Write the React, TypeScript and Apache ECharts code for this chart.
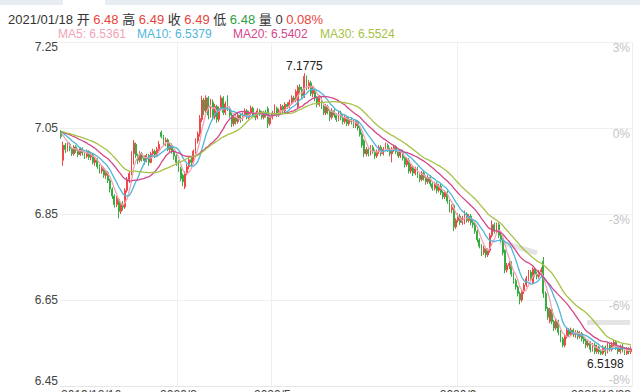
import React, { useEffect, useRef } from "react";
import * as echarts from "echarts";

const FONT = "Arial, 'Liberation Sans', 'Noto Sans CJK SC', sans-serif";

// first trading day shown (weekday calendar)
const startDate = "2019-12-16";

// closes before the visible range (used only for the moving averages)
const priorCloses = [
  7.045, 7.05, 7.04, 7.035, 7.045, 7.04, 7.05, 7.045, 7.035, 7.04,
  7.045, 7.05, 7.04, 7.035, 7.04, 7.045, 7.04, 7.05, 7.045, 7.04,
  7.035, 7.045, 7.05, 7.04, 7.045, 7.04, 7.035, 7.045, 7.04,
];

// [open, close, low, high]
const candles: number[][] = [
  [7.04, 7.03, 7.025, 7.045], [6.975, 7.01, 6.962, 7.018], [7.01, 7.0, 6.992, 7.015], [7.0, 7.012, 6.995, 7.018], [7.012, 7.002, 6.996, 7.016],
  [7.002, 6.99, 6.985, 7.006], [6.99, 7.006, 6.986, 7.01], [7.006, 6.998, 6.992, 7.01], [6.998, 6.988, 6.982, 7.002], [6.988, 7.002, 6.985, 7.006],
  [7.002, 6.992, 6.986, 7.005], [6.992, 6.984, 6.978, 6.996], [6.984, 6.996, 6.98, 7.0], [6.996, 6.982, 6.976, 6.998], [6.982, 6.988, 6.975, 6.994],
  [6.988, 6.97, 6.965, 6.99], [6.97, 6.976, 6.962, 6.982], [6.976, 6.96, 6.955, 6.98], [6.96, 6.95, 6.944, 6.965], [6.95, 6.956, 6.944, 6.962],
  [6.956, 6.94, 6.934, 6.96], [6.94, 6.946, 6.932, 6.952], [6.946, 6.928, 6.922, 6.95], [6.928, 6.908, 6.9, 6.932], [6.908, 6.892, 6.885, 6.912],
  [6.892, 6.872, 6.865, 6.896], [6.872, 6.886, 6.866, 6.892], [6.884, 6.856, 6.84, 6.888], [6.856, 6.872, 6.85, 6.878], [6.872, 6.866, 6.858, 6.88],
  [6.866, 6.905, 6.862, 6.91], [6.905, 6.93, 6.9, 6.936], [6.93, 6.944, 6.922, 6.95], [6.944, 6.99, 6.94, 6.996], [6.99, 7.015, 6.965, 7.022],
  [7.012, 6.986, 6.98, 7.016], [6.986, 6.975, 6.966, 6.99], [6.975, 6.99, 6.97, 6.996], [6.99, 6.98, 6.972, 6.994], [6.98, 6.974, 6.965, 6.986],
  [6.974, 6.986, 6.97, 6.99], [6.986, 6.97, 6.962, 6.99], [6.97, 6.99, 6.968, 6.995], [6.99, 6.996, 6.984, 7.002], [6.996, 6.985, 6.98, 7.0],
  [6.985, 7.0, 6.982, 7.006], [7.0, 7.012, 6.996, 7.02], [7.04, 7.03, 7.026, 7.044], [7.03, 7.016, 7.01, 7.034], [7.016, 7.022, 7.008, 7.028],
  [7.022, 7.0, 6.996, 7.026], [7.0, 7.01, 6.994, 7.016], [7.01, 6.995, 6.99, 7.014], [6.995, 6.985, 6.976, 7.0], [6.985, 6.97, 6.962, 6.99],
  [6.97, 6.955, 6.948, 6.975], [6.955, 6.932, 6.926, 6.96], [6.94, 6.925, 6.915, 6.944], [6.913, 6.945, 6.908, 6.95], [6.945, 6.96, 6.94, 6.966],
  [6.96, 6.976, 6.954, 6.98], [6.976, 6.97, 6.962, 6.984], [6.97, 6.996, 6.966, 7.0], [6.996, 7.02, 6.99, 7.026], [7.02, 7.036, 7.014, 7.042],
  [7.036, 7.072, 7.03, 7.08], [7.07, 7.115, 7.064, 7.125], [7.115, 7.09, 7.08, 7.12], [7.09, 7.12, 7.085, 7.126], [7.12, 7.08, 7.07, 7.124],
  [7.08, 7.11, 7.074, 7.118], [7.11, 7.076, 7.068, 7.116], [7.076, 7.1, 7.07, 7.106], [7.1, 7.07, 7.062, 7.104], [7.07, 7.095, 7.064, 7.1],
  [7.095, 7.12, 7.09, 7.126], [7.12, 7.086, 7.08, 7.124], [7.086, 7.106, 7.08, 7.112], [7.12, 7.095, 7.09, 7.126], [7.095, 7.08, 7.074, 7.1],
  [7.08, 7.06, 7.052, 7.086], [7.06, 7.075, 7.054, 7.08], [7.075, 7.065, 7.058, 7.08], [7.065, 7.08, 7.06, 7.086], [7.08, 7.07, 7.062, 7.084],
  [7.07, 7.08, 7.066, 7.086], [7.08, 7.09, 7.075, 7.096], [7.09, 7.075, 7.07, 7.094], [7.075, 7.086, 7.07, 7.09], [7.086, 7.096, 7.08, 7.102],
  [7.096, 7.08, 7.074, 7.1], [7.08, 7.075, 7.068, 7.086], [7.075, 7.09, 7.07, 7.096], [7.09, 7.085, 7.078, 7.094], [7.085, 7.075, 7.07, 7.09],
  [7.075, 7.086, 7.07, 7.09], [7.086, 7.08, 7.074, 7.092], [7.095, 7.06, 7.05, 7.1], [7.06, 7.075, 7.055, 7.08], [7.075, 7.085, 7.07, 7.09],
  [7.085, 7.096, 7.08, 7.105], [7.096, 7.08, 7.075, 7.1], [7.08, 7.09, 7.076, 7.095], [7.09, 7.1, 7.084, 7.106], [7.1, 7.09, 7.084, 7.104],
  [7.09, 7.105, 7.086, 7.11], [7.105, 7.1, 7.094, 7.11], [7.1, 7.11, 7.096, 7.116], [7.11, 7.12, 7.104, 7.126], [7.12, 7.115, 7.108, 7.125],
  [7.115, 7.135, 7.11, 7.14], [7.1, 7.145, 7.095, 7.15], [7.145, 7.14, 7.132, 7.152], [7.14, 7.125, 7.12, 7.146], [7.125, 7.17, 7.12, 7.1775],
  [7.17, 7.145, 7.138, 7.172], [7.145, 7.155, 7.14, 7.162], [7.155, 7.13, 7.124, 7.16], [7.13, 7.14, 7.122, 7.146], [7.14, 7.12, 7.112, 7.144],
  [7.12, 7.105, 7.098, 7.124], [7.105, 7.12, 7.1, 7.126], [7.12, 7.1, 7.094, 7.124], [7.1, 7.085, 7.08, 7.104], [7.085, 7.1, 7.08, 7.106],
  [7.1, 7.09, 7.082, 7.104], [7.09, 7.075, 7.066, 7.094], [7.075, 7.09, 7.07, 7.096], [7.09, 7.08, 7.074, 7.094], [7.08, 7.07, 7.064, 7.084],
  [7.07, 7.085, 7.066, 7.09], [7.085, 7.075, 7.068, 7.09], [7.075, 7.065, 7.058, 7.08], [7.065, 7.075, 7.06, 7.08], [7.075, 7.06, 7.054, 7.078],
  [7.06, 7.07, 7.055, 7.076], [7.07, 7.065, 7.058, 7.074], [7.065, 7.055, 7.05, 7.07], [7.055, 7.065, 7.05, 7.07], [7.065, 7.05, 7.044, 7.068],
  [7.05, 7.035, 7.03, 7.054], [7.035, 7.01, 7.004, 7.04], [7.02, 6.99, 6.982, 7.024], [6.99, 7.0, 6.984, 7.006], [7.0, 6.99, 6.984, 7.004],
  [6.99, 7.005, 6.986, 7.01], [7.005, 6.995, 6.99, 7.01], [6.995, 6.985, 6.978, 7.0], [6.985, 6.995, 6.98, 7.0], [6.995, 7.005, 6.99, 7.01],
  [7.005, 6.99, 6.984, 7.01], [6.99, 7.0, 6.986, 7.006], [7.0, 7.01, 6.996, 7.016], [7.01, 7.0, 6.994, 7.014], [7.0, 6.99, 6.984, 7.004],
  [6.99, 7.0, 6.97, 7.006], [7.0, 7.006, 6.994, 7.012], [7.006, 6.995, 6.99, 7.01], [6.995, 6.985, 6.98, 7.0], [6.985, 6.995, 6.98, 7.0],
  [6.995, 6.98, 6.974, 7.0], [6.98, 6.965, 6.958, 6.984], [6.965, 6.975, 6.96, 6.98], [6.975, 6.95, 6.944, 6.98], [6.95, 6.96, 6.944, 6.966],
  [6.96, 6.945, 6.938, 6.964], [6.945, 6.955, 6.94, 6.96], [6.955, 6.94, 6.934, 6.96], [6.94, 6.93, 6.924, 6.944], [6.93, 6.945, 6.926, 6.95],
  [6.945, 6.935, 6.928, 6.95], [6.935, 6.925, 6.918, 6.94], [6.925, 6.935, 6.92, 6.94], [6.935, 6.92, 6.914, 6.94], [6.92, 6.91, 6.904, 6.924],
  [6.91, 6.92, 6.905, 6.925], [6.92, 6.905, 6.898, 6.924], [6.905, 6.915, 6.9, 6.92], [6.915, 6.9, 6.894, 6.92], [6.9, 6.89, 6.884, 6.904],
  [6.89, 6.9, 6.885, 6.905], [6.9, 6.88, 6.874, 6.904], [6.88, 6.86, 6.854, 6.884], [6.86, 6.865, 6.852, 6.872], [6.87, 6.82, 6.81, 6.874],
  [6.82, 6.835, 6.815, 6.84], [6.835, 6.845, 6.83, 6.852], [6.845, 6.83, 6.824, 6.85], [6.83, 6.84, 6.825, 6.846], [6.83, 6.852, 6.826, 6.858],
  [6.85, 6.835, 6.83, 6.854], [6.835, 6.845, 6.83, 6.85], [6.845, 6.83, 6.824, 6.85], [6.83, 6.825, 6.818, 6.836], [6.825, 6.81, 6.804, 6.83],
  [6.81, 6.79, 6.784, 6.814], [6.79, 6.775, 6.77, 6.794], [6.775, 6.76, 6.752, 6.78], [6.76, 6.77, 6.755, 6.776], [6.77, 6.755, 6.748, 6.774],
  [6.755, 6.765, 6.75, 6.77], [6.765, 6.8, 6.76, 6.806], [6.8, 6.825, 6.795, 6.835], [6.825, 6.81, 6.804, 6.83], [6.81, 6.825, 6.806, 6.83],
  [6.825, 6.8, 6.794, 6.83], [6.8, 6.79, 6.784, 6.806], [6.79, 6.76, 6.754, 6.794], [6.765, 6.72, 6.712, 6.768], [6.72, 6.73, 6.714, 6.736],
  [6.73, 6.735, 6.722, 6.74], [6.735, 6.71, 6.704, 6.74], [6.71, 6.695, 6.688, 6.714], [6.695, 6.68, 6.674, 6.7], [6.68, 6.665, 6.658, 6.684],
  [6.665, 6.65, 6.64, 6.67], [6.65, 6.67, 6.645, 6.676], [6.67, 6.685, 6.664, 6.69], [6.685, 6.7, 6.68, 6.706], [6.7, 6.715, 6.694, 6.72],
  [6.715, 6.7, 6.694, 6.72], [6.69, 6.722, 6.686, 6.726], [6.722, 6.71, 6.704, 6.726], [6.71, 6.705, 6.698, 6.716], [6.705, 6.715, 6.7, 6.72],
  [6.715, 6.72, 6.708, 6.726], [6.74, 6.665, 6.655, 6.75], [6.665, 6.63, 6.624, 6.67], [6.63, 6.61, 6.604, 6.634], [6.6, 6.628, 6.596, 6.632],
  [6.628, 6.6, 6.594, 6.632], [6.6, 6.585, 6.578, 6.604], [6.585, 6.6, 6.58, 6.606], [6.6, 6.575, 6.568, 6.604], [6.575, 6.56, 6.552, 6.58],
  [6.56, 6.545, 6.54, 6.564], [6.545, 6.565, 6.54, 6.57], [6.565, 6.58, 6.56, 6.586], [6.58, 6.57, 6.564, 6.584], [6.57, 6.58, 6.566, 6.586],
  [6.58, 6.57, 6.564, 6.584], [6.57, 6.575, 6.562, 6.58], [6.575, 6.565, 6.558, 6.58], [6.565, 6.572, 6.56, 6.578], [6.572, 6.56, 6.554, 6.576],
  [6.56, 6.555, 6.548, 6.566], [6.555, 6.545, 6.538, 6.56], [6.545, 6.55, 6.54, 6.556], [6.55, 6.535, 6.528, 6.554], [6.535, 6.545, 6.53, 6.55],
  [6.545, 6.53, 6.524, 6.55], [6.53, 6.54, 6.525, 6.546], [6.54, 6.53, 6.524, 6.544], [6.53, 6.526, 6.522, 6.536], [6.526, 6.54, 6.522, 6.545],
  [6.54, 6.53, 6.5198, 6.544], [6.53, 6.545, 6.526, 6.55], [6.545, 6.535, 6.53, 6.55], [6.535, 6.545, 6.53, 6.552], [6.545, 6.552, 6.54, 6.558],
  [6.552, 6.54, 6.534, 6.556], [6.54, 6.53, 6.524, 6.544], [6.53, 6.54, 6.525, 6.546], [6.54, 6.535, 6.528, 6.548], [6.535, 6.525, 6.522, 6.54],
  [6.525, 6.535, 6.522, 6.54], [6.535, 6.53, 6.524, 6.54], [6.53, 6.536, 6.524, 6.542],
];

// x-axis tick labels
const xTickDates = ["2019-12-16", "2020-03-02", "2020-05-01", "2020-09-01", "2020-12-23"];
const xTickTexts = ["2019/12/16", "2020/3", "2020/5", "2020/9", "2020/12/23"];
const xGridDates = ["2020-03-02", "2020-05-01", "2020-09-01"];

// y-axis
const yMin = 6.45;
const yMax = 7.25;
const yStep = 0.2;
const pctTickValues = [6.45, 6.65, 6.85, 7.05, 7.25];
const pctTickTexts = ["-8%", "-6%", "-3%", "0%", "3%"];

// header
const headerTokens = ["2021/01/18", "开", "6.48", "高", "6.49", "收", "6.49", "低", "6.48", "量", "0", "0.08%"];
const headerKinds = ["k", "k", "r", "k", "r", "k", "r", "k", "g", "k", "k", "r"];

// moving averages
const maPeriods = [5, 10, 20, 30];
const maNames = ["MA5", "MA10", "MA20", "MA30"];
const maLast = ["6.5361", "6.5379", "6.5402", "6.5524"];
const maColors = ["#f2a3b6", "#4fb6dc", "#d4468a", "#a5c244"];

const UP = "#ee4848";
const DOWN = "#36ad40";

function weekdayDates(start: string, count: number): string[] {
  const out: string[] = [];
  const d = new Date(start + "T00:00:00Z");
  while (out.length < count) {
    const wd = d.getUTCDay();
    if (wd !== 0 && wd !== 6) out.push(d.toISOString().slice(0, 10));
    d.setUTCDate(d.getUTCDate() + 1);
  }
  return out;
}

function movingAverage(n: number): number[] {
  const closes = priorCloses.concat(candles.map((c) => c[1]));
  const P = priorCloses.length;
  const res: number[] = [];
  for (let i = 0; i < candles.length; i++) {
    let s = 0;
    for (let k = 0; k < n; k++) s += closes[P + i - k];
    res.push(+(s / n).toFixed(4));
  }
  return res;
}

export default function App() {
  const ref = useRef<HTMLDivElement>(null);
  useEffect(() => {
    document.body.style.margin = "0";
    const chart = echarts.init(ref.current!, null, { renderer: "svg" });
    const dates = weekdayDates(startDate, candles.length);
    const tickSet = new Set(xTickDates);
    const gridSet = new Set(xGridDates);

    const headerText = headerTokens.map((t, i) => `{${headerKinds[i]}|${t}}`).join("{k| }");

    const graphic: any[] = [
      { type: "rect", shape: { x: 0, y: 0, width: 640, height: 5 }, style: { fill: "#e8edf4" }, silent: true },
      { type: "rect", shape: { x: 63, y: 0, width: 42, height: 5 }, style: { fill: "#ffffff" }, silent: true },
      { type: "line", shape: { x1: 500, y1: 242, x2: 537, y2: 253 }, style: { stroke: "#e4e4e4", lineWidth: 5 }, z: 0, silent: true },
      { type: "rect", shape: { x: 587, y: 320, width: 43, height: 5 }, style: { fill: "#e4e4e4" }, z: 0, silent: true },
      {
        type: "text",
        x: 8,
        y: 19,
        style: {
          text: headerText,
          verticalAlign: "middle",
          rich: {
            k: { fill: "#333", fontSize: 13, fontFamily: FONT },
            r: { fill: "#e8433c", fontSize: 13, fontFamily: FONT },
            g: { fill: "#2e9f45", fontSize: 13, fontFamily: FONT },
          },
        },
      },
    ];
    const legendX = [58, 137, 233, 320];
    maNames.forEach((n, i) => {
      graphic.push({
        type: "text",
        x: legendX[i],
        y: 34,
        style: {
          text: `${n}: ${maLast[i]}`,
          fill: maColors[i],
          fontSize: 12,
          fontFamily: FONT,
          verticalAlign: "middle",
        },
      });
    });

    const option: any = {
      animation: false,
      textStyle: { fontFamily: FONT },
      grid: { left: 60, right: 8, top: 42, bottom: 6, containLabel: false, outerBoundsMode: "none" },
      xAxis: {
        type: "category",
        data: dates,
        boundaryGap: true,
        axisLine: { show: true, lineStyle: { color: "#e6e6e6" } },
        axisTick: { show: false },
        splitLine: {
          show: true,
          interval: (_i: number, v: string) => gridSet.has(v),
          lineStyle: { color: "#efefef" },
        },
        axisLabel: {
          interval: (_i: number, v: string) => tickSet.has(v),
          margin: 3,
          color: "#444",
          fontSize: 12,
          formatter: (v: string) => {
            const idx = xTickDates.indexOf(v);
            if (idx < 0) return "";
            const t = xTickTexts[idx];
            if (idx === 0) return `{l|${t}}`;
            if (idx === xTickDates.length - 1) return `{r|${t}}`;
            return `{m|${t}}`;
          },
          rich: {
            l: { color: "#444", fontSize: 12, padding: [0, 0, 0, 60] },
            r: { color: "#444", fontSize: 12, padding: [0, 60, 0, 0] },
            m: { color: "#444", fontSize: 12 },
          },
        },
      },
      yAxis: [
        {
          type: "value",
          position: "left",
          min: yMin,
          max: yMax,
          interval: yStep,
          axisLine: { show: false },
          axisTick: { show: false },
          splitLine: { lineStyle: { color: "#efefef" } },
          axisLabel: {
            margin: 2,
            formatter: (v: number) => {
              const s = v.toFixed(2);
              if (Math.abs(v - yMax) < 1e-6) return `{s| }\n{t|${s}}`;
              if (Math.abs(v - yMin) < 1e-6) return `{t|${s}}\n{s| }`;
              return `{t|${s}}`;
            },
            rich: {
              t: { color: "#444", fontSize: 12, lineHeight: 14 },
              s: { fontSize: 8, lineHeight: 10 },
            },
          },
        },
        {
          type: "value",
          position: "right",
          min: yMin,
          max: yMax,
          interval: yStep,
          axisLine: { show: false },
          axisTick: { show: false },
          splitLine: { show: false },
          axisLabel: {
            inside: true,
            margin: 2,
            formatter: (v: number) => {
              let idx = -1;
              pctTickValues.forEach((p, i) => {
                if (Math.abs(p - v) < 1e-6) idx = i;
              });
              if (idx < 0) return "";
              const s = pctTickTexts[idx];
              if (idx === 0) return `{t|${s}}\n{s| }`;
              return `{s| }\n{t|${s}}`;
            },
            rich: {
              t: { color: "#c4c4c4", fontSize: 12, lineHeight: 14 },
              s: { fontSize: 8, lineHeight: 12 },
            },
          },
        },
      ],
      graphic,
      series: [
        {
          type: "candlestick",
          data: candles,
          barWidth: 1.4,
          itemStyle: { color: UP, color0: DOWN, borderColor: UP, borderColor0: DOWN, borderWidth: 1 },
          markPoint: {
            symbol: "rect",
            symbolSize: 1,
            itemStyle: { color: "rgba(0,0,0,0)" },
            label: {
              show: true,
              color: "#222",
              fontSize: 12,
              formatter: (p: any) => Number(p.value).toFixed(4),
            },
            data: [
              { type: "max", valueDim: "highest", label: { position: "top", distance: 1 } },
              { type: "min", valueDim: "lowest", label: { position: "bottom", distance: 1 } },
            ],
          },
        },
        ...maPeriods.map((n, i) => ({
          type: "line",
          name: maNames[i],
          data: movingAverage(n),
          showSymbol: false,
          symbol: "none",
          smooth: false,
          lineStyle: { width: 1.3, color: maColors[i] },
          itemStyle: { color: maColors[i] },
        })),
      ],
    };
    chart.setOption(option);
    return () => chart.dispose();
  }, []);
  return <div ref={ref} style={{ position: "absolute", left: 0, top: 0, width: 640, height: 392 }} />;
}
